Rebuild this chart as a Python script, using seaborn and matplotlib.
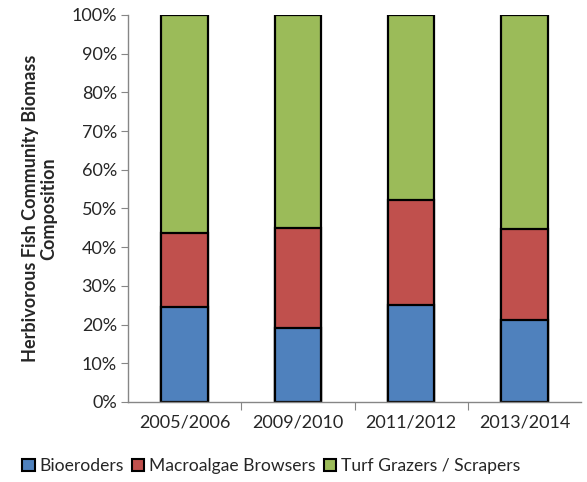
import numpy as np
import pandas as pd
import matplotlib.pyplot as plt
import seaborn as sns
from matplotlib.patches import Patch
from matplotlib.ticker import PercentFormatter

# Valores (%)
periodos = ['2005/2006', '2009/2010', '2011/2012', '2013/2014']
bioeroders = [24.5, 19.1, 25.0, 21.2]
macroalgae = [19.1, 25.9, 27.1, 23.5]
turf = [56.4, 55.0, 47.9, 55.3]

grupos = ['Bioeroders', 'Macroalgae Browsers', 'Turf Grazers / Scrapers']
cores = ['#4f81bd', '#c0504d', '#9bbb59']

sns.set_style('white')
plt.rcParams['font.family'] = ['Lato', 'DejaVu Sans']

df = pd.DataFrame({'Periodo': periodos, 'Bio': bioeroders, 'Macro': macroalgae, 'Turf': turf})
df['c1'] = df['Bio']
df['c2'] = df['Bio'] + df['Macro']
df['c3'] = df['c2'] + df['Turf']

fig = plt.figure(figsize=(5.87, 4.82), dpi=100)
ax = fig.add_axes([0.218, 0.166, 0.772, 0.803])

# barras empilhadas: desenha o acumulado de cima para baixo
for col, cor in zip(['c3', 'c2', 'c1'], cores[::-1]):
    sns.barplot(data=df, x='Periodo', y=col, color=cor, width=0.41,
                edgecolor='black', linewidth=1.6, saturation=1, ax=ax)

ax.set_ylim(0, 100)
ax.set_xlim(-0.5, 3.5)
ax.set_yticks(np.arange(0, 101, 10))
ax.yaxis.set_major_formatter(PercentFormatter(decimals=0))
ax.set_xticks([0.5, 1.5, 2.5], minor=False)
ax.set_xticks(range(4), minor=True)
ax.set_xticklabels([])
ax.set_xticklabels(periodos, minor=True)
ax.tick_params(axis='x', which='minor', length=0, labelsize=13, pad=9)
ax.tick_params(axis='x', which='major', length=6, color='#868686', direction='out', bottom=True)
ax.tick_params(axis='y', length=5, color='#868686', direction='out', left=True, labelsize=13, pad=3)
ax.set_xlabel('')
ax.set_ylabel('Herbivorous Fish Community Biomass\nComposition', fontsize=13,
              fontweight='bold', labelpad=10, linespacing=1.1)

sns.despine(ax=ax)
for s in ['left', 'bottom']:
    ax.spines[s].set_color('#868686')
    ax.spines[s].set_linewidth(1)

handles = [Patch(facecolor=c, edgecolor='black', linewidth=1.5) for c in cores]
fig.legend(handles, grupos, loc='center', bbox_to_anchor=(0.462, 0.033), ncol=3,
           frameon=False, fontsize=12.6, handlelength=0.7, handleheight=0.7,
           handletextpad=0.25, columnspacing=0.5)

plt.savefig('out.png', dpi=100)
